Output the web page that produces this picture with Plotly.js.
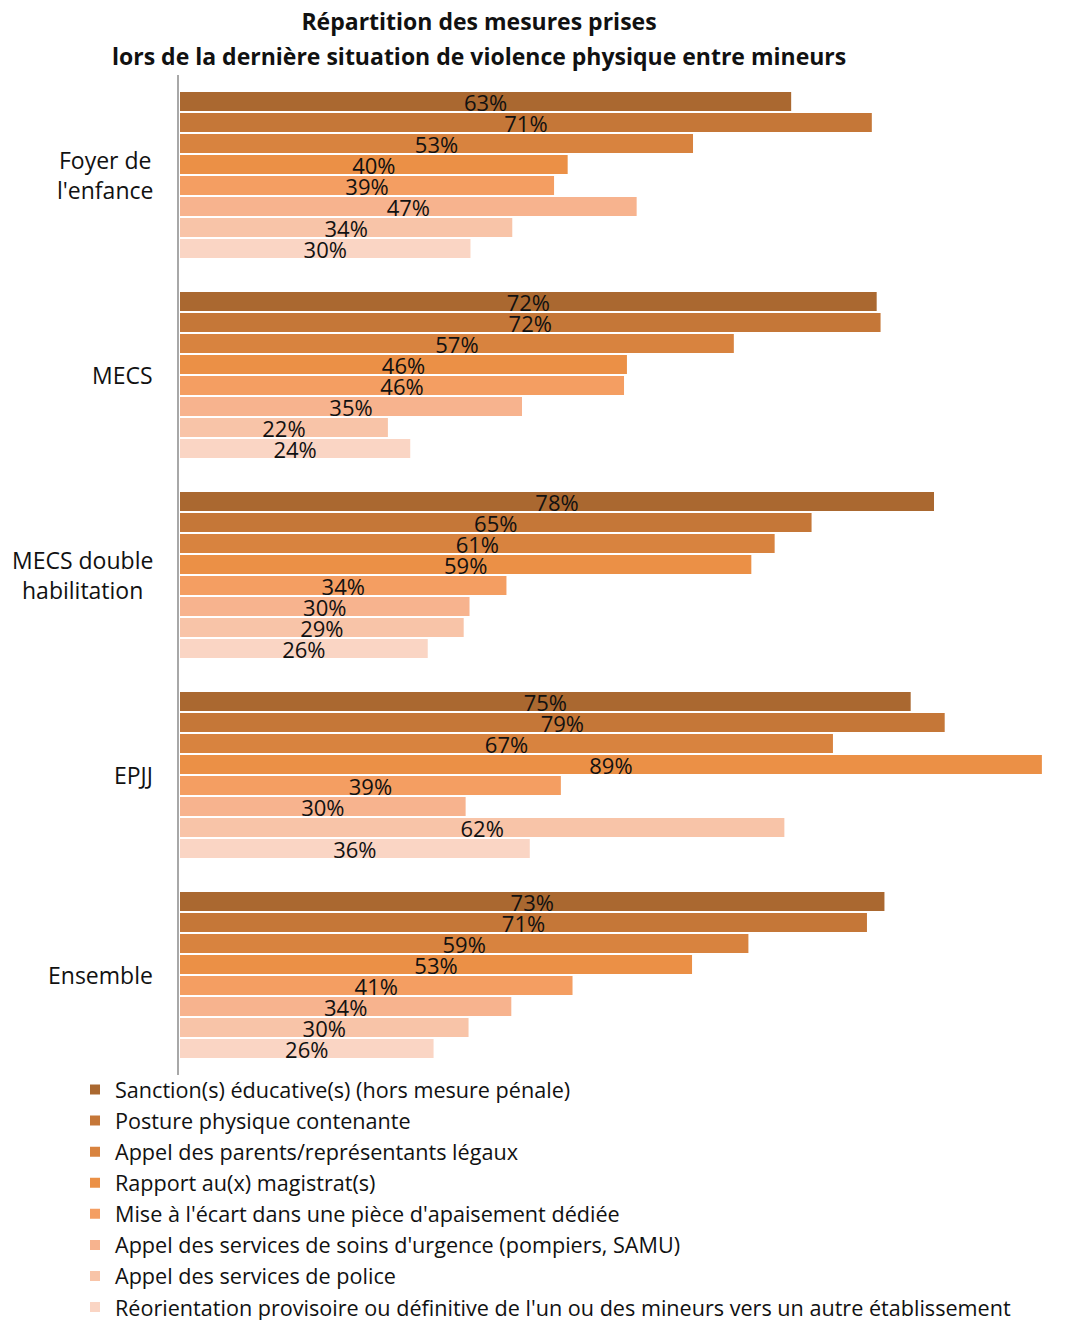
<!DOCTYPE html>
<html>
<head>
<meta charset="utf-8">
<script src="https://cdn.plot.ly/plotly-3.0.1.min.js"></script>
<style>html,body{margin:0;padding:0;background:#fff;}#chart{width:1081px;height:1320px;}</style>
</head>
<body>
<div id="chart"></div>
<script>
// Categories (top to bottom)
const categories = ["Foyer de l'enfance", "MECS", "MECS double habilitation", "EPJJ", "Ensemble"];
const categoryLabels = ["Foyer de<br>l'enfance", "MECS", "MECS double<br>habilitation", "EPJJ", "Ensemble"];

// Series names (legend order)
const seriesNames = [
  "Sanction(s) éducative(s) (hors mesure pénale)",
  "Posture physique contenante",
  "Appel des parents/représentants légaux",
  "Rapport au(x) magistrat(s)",
  "Mise à l'écart dans une pièce d'apaisement dédiée",
  "Appel des services de soins d'urgence (pompiers, SAMU)",
  "Appel des services de police",
  "Réorientation provisoire ou définitive de l'un ou des mineurs vers un autre établissement"
];

// Values (%) per series, one per category
const sanctions     = [63.1, 71.9, 77.8, 75.4, 72.7];
const posture       = [71.4, 72.3, 65.2, 78.9, 70.9];
const parents       = [53.0, 57.2, 61.4, 67.4, 58.7];
const magistrat     = [40.1, 46.2, 59.0, 88.9, 52.9];
const ecart         = [38.7, 45.9, 33.8, 39.4, 40.6];
const urgence       = [47.2, 35.4, 30.0, 29.6, 34.3];
const police        = [34.4, 21.6, 29.4, 62.4, 29.9];
const reorientation = [30.1, 23.9, 25.7, 36.2, 26.3];

const seriesValues = [sanctions, posture, parents, magistrat, ecart, urgence, police, reorientation];
const seriesColors = ["#AA6830", "#C57738", "#D8833F", "#EB9046", "#F49E62", "#F7B38E", "#F8C4A8", "#FAD5C4"];

const FONT = "'Open Sans', 'Noto Sans', sans-serif";

const traces = seriesNames.map((name, i) => ({
  type: 'bar',
  orientation: 'h',
  name: name,
  y: categories,
  x: seriesValues[i],
  marker: {color: seriesColors[i], line: {color: '#ffffff', width: 2}},
  texttemplate: '%{x:.0f}%',
  textposition: 'inside',
  insidetextanchor: 'middle',
  constraintext: 'none',
  textangle: 0,
  textfont: {family: FONT, size: 22, color: '#111111'},
  hoverinfo: 'skip'
}));

const annotations = categories.map((c, i) => ({
  xref: 'paper', yref: 'y',
  x: 0, y: c,
  xshift: -24,
  xanchor: 'right', yanchor: 'middle',
  align: 'center',
  text: categoryLabels[i],
  showarrow: false,
  font: {family: FONT, size: 23, color: '#111111'}
}));

annotations.push({
  xref: 'paper', yref: 'paper',
  x: (479 - 179) / 894, y: 1 + (75 - 56) / 1000,
  xanchor: 'center', yanchor: 'middle',
  text: '<b>lors de la dernière situation de violence physique entre mineurs</b>',
  showarrow: false,
  font: {family: FONT, size: 23, color: '#111111'}
});

const layout = {
  width: 1081,
  height: 1320,
  paper_bgcolor: '#ffffff',
  plot_bgcolor: '#ffffff',
  margin: {l: 179, r: 8, t: 75, b: 245, pad: 0, autoexpand: false},
  title: {
    text: '<b>Répartition des mesures prises</b>',
    xref: 'container', yref: 'container',
    x: 479 / 1081, y: 1 - 22 / 1320,
    xanchor: 'center', yanchor: 'middle',
    font: {family: FONT, size: 23, color: '#111111'}
  },
  barmode: 'group',
  bargap: 0.16,
  bargroupgap: 0,
  xaxis: {range: [0, 92], showgrid: false, zeroline: false, showticklabels: false, ticks: '', showline: false, fixedrange: true},
  yaxis: {
    type: 'category',
    autorange: 'reversed',
    showticklabels: false,
    ticks: '',
    showgrid: false,
    zeroline: false,
    showline: true,
    linecolor: '#A8A8A8',
    linewidth: 2,
    fixedrange: true
  },
  showlegend: true,
  legend: {
    orientation: 'v',
    traceorder: 'normal',
    xref: 'container', yref: 'container',
    x: 75 / 1081, y: 1 - 1069 / 1320,
    xanchor: 'left', yanchor: 'top',
    font: {family: FONT, size: 21.6, color: '#111111'},
    bgcolor: 'rgba(0,0,0,0)',
    itemclick: false, itemdoubleclick: false
  },
  annotations: annotations,
  font: {family: FONT, color: '#111111'}
};

Plotly.newPlot('chart', traces, layout, {staticPlot: true, displayModeBar: false});
</script>
</body>
</html>
